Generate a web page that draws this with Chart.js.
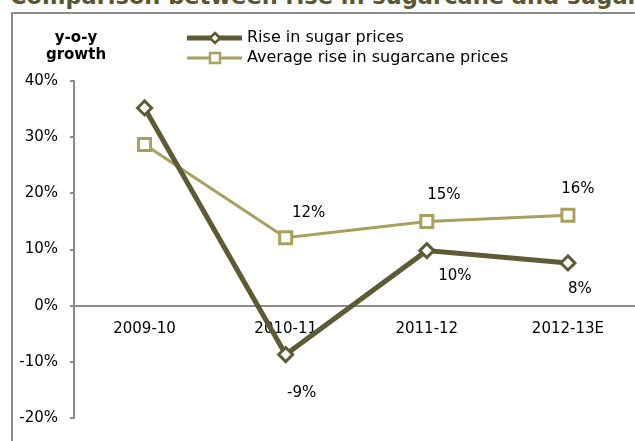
<!DOCTYPE html>
<html>
<head>
<meta charset="utf-8">
<title>Sugar vs sugarcane prices</title>
<script src="https://cdn.jsdelivr.net/npm/chart.js@4.4.1/dist/chart.umd.min.js"></script>
<style>
    html, body { margin: 0; padding: 0; background: #fff; overflow: hidden; }
    body { width: 635px; height: 441px; position: relative; }
    #title { position: absolute; left: 10px; top: -17px; font: bold 22.5px "DejaVu Sans", sans-serif; color: #5a5630; white-space: nowrap; line-height: 26px; }
    #frame { position: absolute; left: 11px; top: 12px; width: 640px; height: 440px; border: 2px solid #8c8c8c; box-sizing: border-box; }
    #chart { position: absolute; left: 0; top: 0; }
</style>
</head>
<body>
<div id="title">Comparison between rise in sugarcane and sugar prices</div>
<div id="frame"></div>
<canvas id="chart" width="650" height="441"></canvas>
<script>
(function () {
    "use strict";

    // Data
    var categories = ['2009-10', '2010-11', '2011-12', '2012-13E'];
    var sugarRise = [35.2, -8.7, 9.8, 7.6];
    var sugarcaneRise = [28.7, 12.1, 15.0, 16.1];
    var sugarLabels = [null, '-9%', '10%', '8%'];
    var sugarcaneLabels = [null, '12%', '15%', '16%'];
    var yMin = -20, yMax = 40, yStep = 10;

    var darkOlive = '#5e5a36';
    var lightOlive = '#a9a05e';
    var axisGrey = '#8c8c8c';
    var font = '"DejaVu Sans", sans-serif';

    // Value labels next to the points
    var valueLabels = {
        id: 'valueLabels',
        afterDatasetsDraw: function (chart) {
            var ctx = chart.ctx;
            ctx.save();
            ctx.font = '15px ' + font;
            ctx.fillStyle = '#000';
            ctx.textAlign = 'center';
            ctx.textBaseline = 'middle';
            chart.data.datasets.forEach(function (ds, di) {
                var meta = chart.getDatasetMeta(di);
                meta.data.forEach(function (pt, i) {
                    var txt = ds.valueText[i];
                    if (!txt) return;
                    var off = ds.labelOffsets[i];
                    ctx.fillText(txt, pt.x + off[0], pt.y + off[1]);
                });
            });
            ctx.restore();
        }
    };

    // Legend and axis title
    var extras = {
        id: 'extras',
        afterDraw: function (chart) {
            var ctx = chart.ctx;
            ctx.save();

            ctx.fillStyle = '#000';
            ctx.font = 'bold 15px ' + font;
            ctx.textAlign = 'center';
            ctx.textBaseline = 'middle';
            ctx.fillText('y-o-y', 76, 38);
            ctx.fillText('growth', 76, 55);

            chart.data.datasets.forEach(function (ds, di) {
                var y = 38 + di * 20;
                ctx.strokeStyle = ds.borderColor;
                ctx.lineWidth = ds.borderWidth;
                ctx.beginPath();
                ctx.moveTo(187, y);
                ctx.lineTo(242, y);
                ctx.stroke();

                ctx.fillStyle = '#fff';
                ctx.lineWidth = 2.5;
                ctx.beginPath();
                if (ds.pointStyle === 'rectRot') {
                    ctx.moveTo(215, y - 5);
                    ctx.lineTo(220, y);
                    ctx.lineTo(215, y + 5);
                    ctx.lineTo(210, y);
                    ctx.closePath();
                } else {
                    ctx.rect(210, y - 5, 10, 10);
                }
                ctx.fill();
                ctx.stroke();

                ctx.fillStyle = '#000';
                ctx.font = '16px ' + font;
                ctx.textAlign = 'left';
                ctx.fillText(ds.label, 247, y);
            });
            ctx.restore();
        }
    };

    var ctx = document.getElementById('chart').getContext('2d');
    var chart = new Chart(ctx, {
        type: 'line',
        data: {
            labels: categories,
            datasets: [{
                label: 'Rise in sugar prices',
                data: sugarRise,
                valueText: sugarLabels,
                labelOffsets: [[0, 0], [16, 39], [28, 25], [12, 26]],
                borderColor: darkOlive,
                borderWidth: 5,
                pointStyle: 'rectRot',
                pointRadius: 7,
                pointBorderWidth: 3,
                pointBackgroundColor: '#fff',
                pointBorderColor: darkOlive,
                tension: 0
            }, {
                label: 'Average rise in sugarcane prices',
                data: sugarcaneRise,
                valueText: sugarcaneLabels,
                labelOffsets: [[0, 0], [23, -25], [17, -26], [10, -26]],
                borderColor: lightOlive,
                borderWidth: 3,
                pointStyle: 'rect',
                pointRadius: 8.5,
                pointBorderWidth: 3,
                pointBackgroundColor: '#fff',
                pointBorderColor: lightOlive,
                tension: 0
            }]
        },
        options: {
            responsive: false,
            animation: false,
            devicePixelRatio: 1,
            layout: { padding: { top: 81, bottom: 23, left: 0, right: 4 } },
            plugins: {
                legend: { display: false },
                tooltip: { enabled: false }
            },
            scales: {
                x: {
                    position: { y: 0 },
                    offset: true,
                    grid: { display: false, drawTicks: false },
                    border: { display: true, color: axisGrey, width: 2 },
                    ticks: { color: '#000', font: { family: font, size: 15 }, padding: 14, maxRotation: 0 }
                },
                y: {
                    min: yMin,
                    max: yMax,
                    afterFit: function (scale) { scale.width = 74; },
                    grid: { drawOnChartArea: false, drawTicks: true, tickLength: 4, color: axisGrey, lineWidth: 2 },
                    border: { color: axisGrey, width: 2 },
                    ticks: {
                        stepSize: yStep,
                        color: '#000',
                        font: { family: font, size: 15 },
                        padding: 12,
                        callback: function (v) { return v + '%'; }
                    }
                }
            }
        },
        plugins: [valueLabels, extras]
    });
})();
</script>
</body>
</html>
